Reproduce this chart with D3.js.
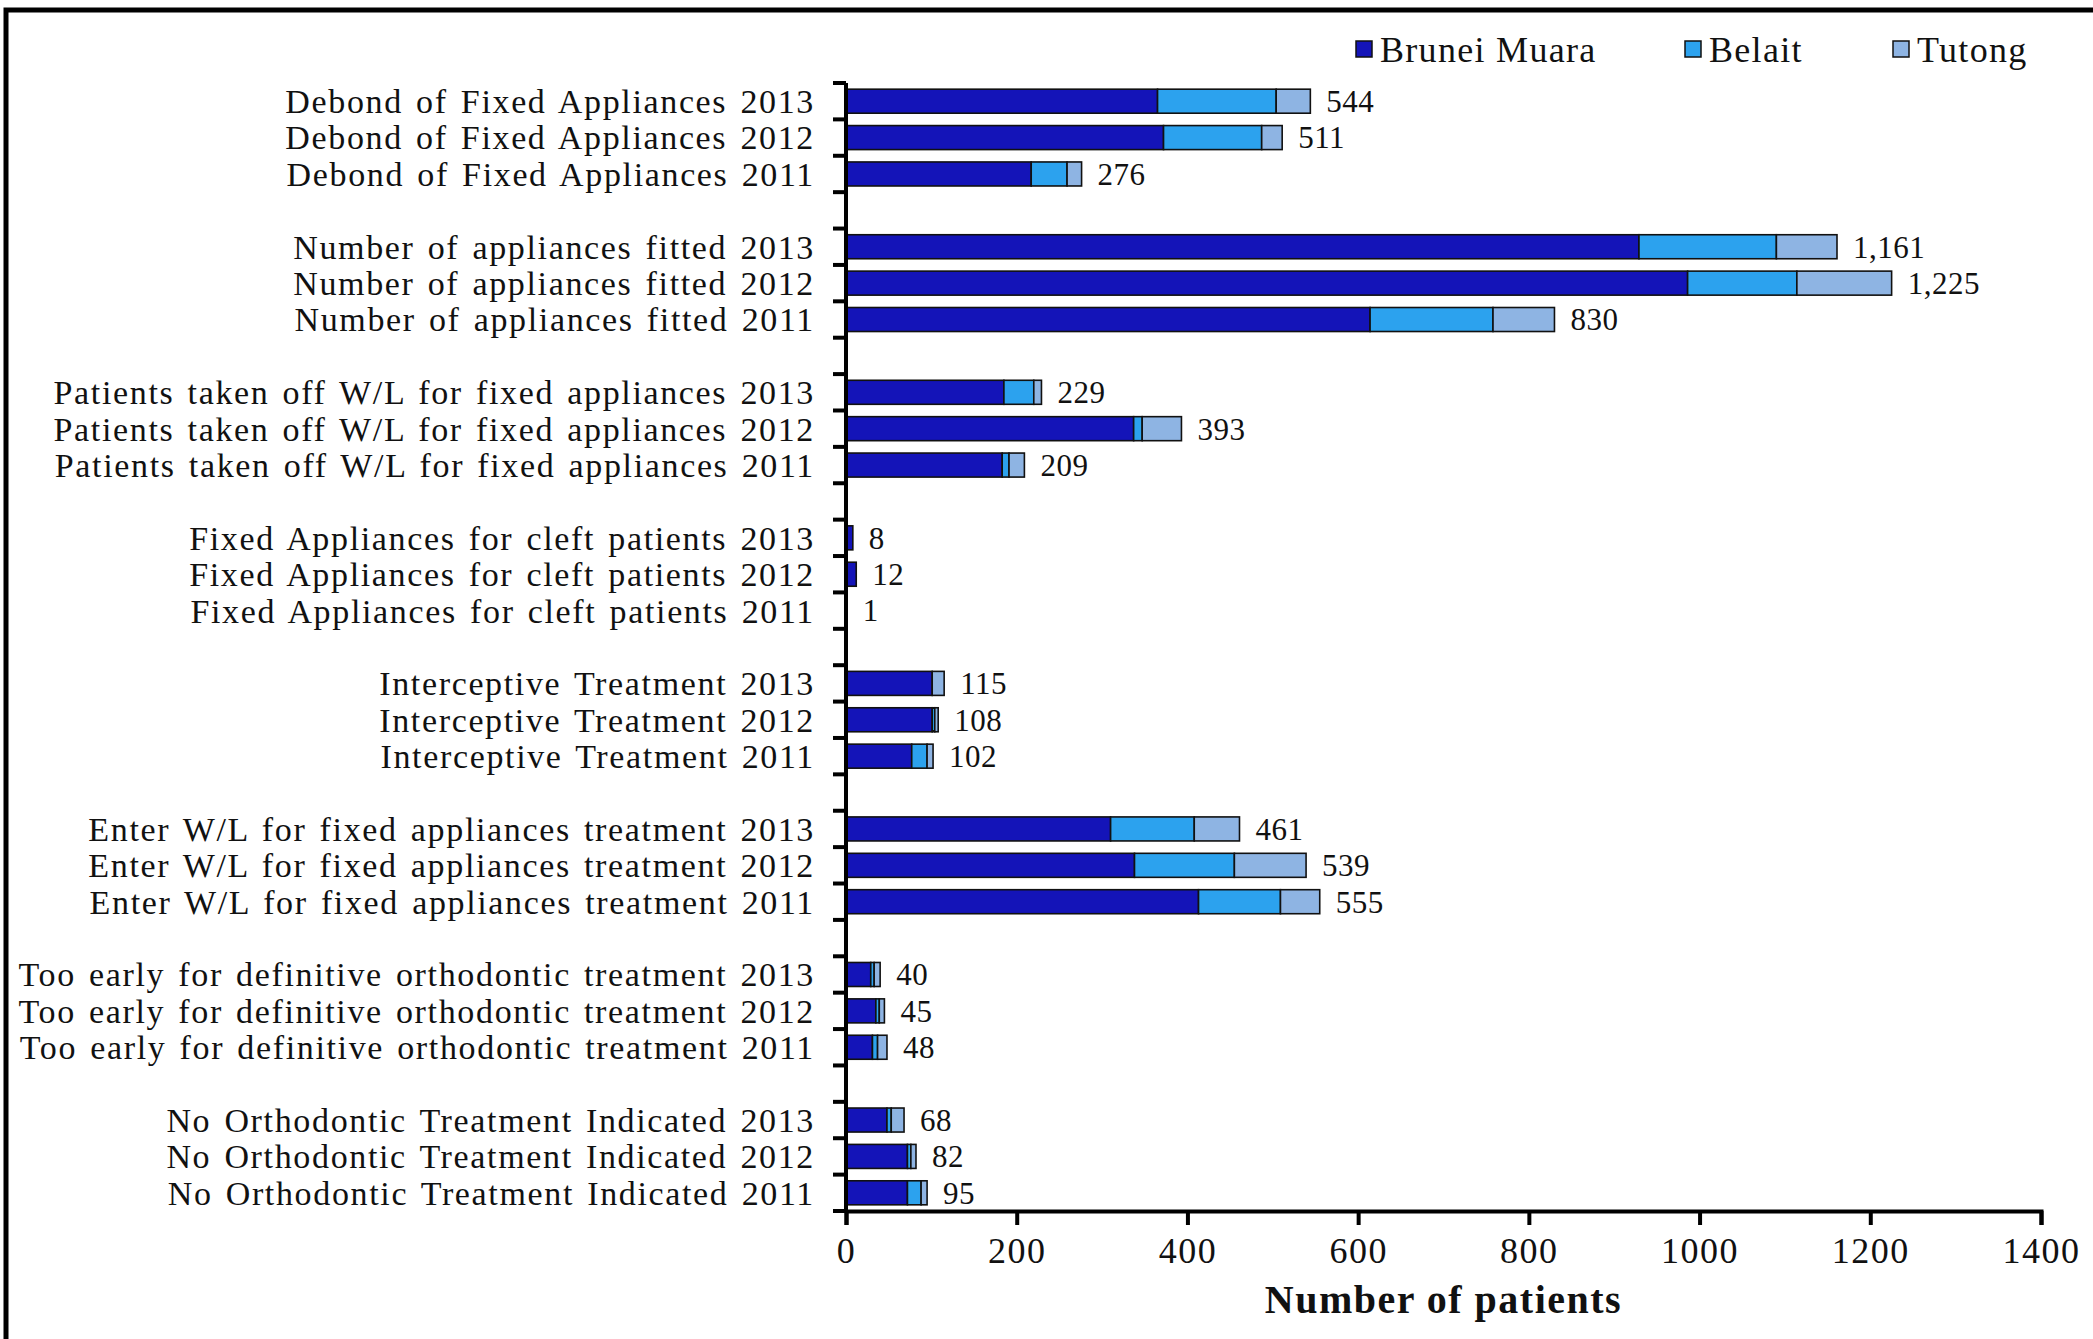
<!DOCTYPE html>
<html>
<head>
<meta charset="utf-8">
<script src="https://cdn.jsdelivr.net/npm/d3@7"></script>
<style>
  body { margin: 0; background: #fff; }
  svg { display: block; font-family: "Liberation Serif", "DejaVu Serif", serif; }
</style>
</head>
<body>
<svg id="chart" width="2093" height="1339"></svg>
<script>
// chart data, top to bottom
const groups = [
  "Debond of Fixed Appliances",
  "Number of appliances fitted",
  "Patients taken off W/L for fixed appliances",
  "Fixed Appliances for cleft patients",
  "Interceptive Treatment",
  "Enter W/L for fixed appliances treatment",
  "Too early for definitive orthodontic treatment",
  "No Orthodontic Treatment Indicated"
];
const years = ["2013", "2012", "2011"];
const districts = ["Brunei Muara", "Belait", "Tutong"];

const bruneiMuara = [365, 372, 217, 929, 986, 614, 185, 337, 183, 8, 12, 1,
  101, 101, 77, 310, 338, 413, 29, 35, 31, 48, 72, 72];
const belait = [139, 115, 42, 161, 128, 144, 35, 10, 8, 0, 0, 0,
  0, 3, 18, 98, 117, 96, 4, 4, 6, 5, 4, 16];
const tutong = [40, 24, 17, 71, 111, 72, 9, 46, 18, 0, 0, 0,
  14, 4, 7, 53, 84, 46, 7, 6, 11, 15, 6, 7];
const totals = [544, 511, 276, 1161, 1225, 830, 229, 393, 209, 8, 12, 1,
  115, 108, 102, 461, 539, 555, 40, 45, 48, 68, 82, 95];

const xTicks = [0, 200, 400, 600, 800, 1000, 1200, 1400];
const colors = ["#1414b8", "#2ca2ee", "#8eb4e3"];

// build rows, with an empty slot between groups
let rows = [];
let slots = [];
groups.forEach(function(g, gi) {
  years.forEach(function(yr, yi) {
    let i = gi * 3 + yi;
    let key = g + " " + yr;
    rows.push({key: key, label: key, values: [bruneiMuara[i], belait[i], tutong[i]], total: totals[i]});
    slots.push(key);
  });
  if (gi < groups.length - 1) slots.push("gap" + gi);
});

const svg = d3.select("#chart");
const margin = {left: 846, right: 52, top: 83, bottom: 128};
const W = +svg.attr("width"), H = +svg.attr("height");

const x = d3.scaleLinear().domain([0, 1400]).range([margin.left, W - margin.right]);
const y = d3.scaleBand().domain(slots).range([margin.top, H - margin.bottom])
  .paddingInner(0.34).paddingOuter(0.17);

// frame (top and left edges)
svg.append("path")
  .attr("d", "M6," + H + " L6,10 L" + W + ",10")
  .attr("fill", "none").attr("stroke", "#000").attr("stroke-width", 5);

// stacked bars
const stack = d3.stack().keys([0, 1, 2]).value(function(d, k) { return d.values[k]; });
const layers = stack(rows);

svg.append("g").selectAll("g")
  .data(layers)
  .join("g")
  .attr("fill", function(d, i) { return colors[i]; })
  .selectAll("rect")
  .data(function(d) { return d.filter(function(s) { return s[1] > s[0]; }); })
  .join("rect")
  .attr("x", function(s) { return x(s[0]); })
  .attr("y", function(s) { return y(s.data.key); })
  .attr("width", function(s) { return x(s[1]) - x(s[0]); })
  .attr("height", y.bandwidth())
  .attr("stroke", "#111")
  .attr("stroke-width", 1.6);

// value labels
const fmt = d3.format(",");
svg.append("g").selectAll("text")
  .data(rows)
  .join("text")
  .attr("x", function(d) { return x(d.total) + 16; })
  .attr("y", function(d) { return y(d.key) + y.bandwidth() / 2; })
  .attr("dy", "0.35em")
  .attr("font-size", 31)
  .attr("letter-spacing", 0.5)
  .attr("fill", "#111")
  .text(function(d) { return fmt(d.total); });

// y axis line and ticks at every slot boundary
const step = y.step();
const yAxis = svg.append("g");
yAxis.append("line")
  .attr("x1", x(0)).attr("x2", x(0))
  .attr("y1", margin.top).attr("y2", H - margin.bottom)
  .attr("stroke", "#000").attr("stroke-width", 4);
yAxis.selectAll(".tick")
  .data(d3.range(slots.length + 1))
  .join("line")
  .attr("class", "tick")
  .attr("x1", x(0) - 13).attr("x2", x(0))
  .attr("y1", function(i) { return margin.top + i * step; })
  .attr("y2", function(i) { return margin.top + i * step; })
  .attr("stroke", "#000").attr("stroke-width", 4);

// category labels
svg.append("g").selectAll("text")
  .data(rows)
  .join("text")
  .attr("x", x(0) - 31)
  .attr("y", function(d) { return y(d.key) + y.bandwidth() / 2; })
  .attr("dy", "0.35em")
  .attr("text-anchor", "end")
  .attr("font-size", 34)
  .attr("letter-spacing", 1.65)
  .attr("word-spacing", 3)
  .attr("fill", "#111")
  .text(function(d) { return d.label; });

// x axis
const xAxis = svg.append("g").attr("transform", "translate(0," + (H - margin.bottom) + ")")
  .call(d3.axisBottom(x).tickValues(xTicks).tickSize(14).tickPadding(12).tickFormat(d3.format("d")));
xAxis.select(".domain").attr("stroke", "#000").attr("stroke-width", 4);
xAxis.selectAll(".tick line").attr("stroke", "#000").attr("stroke-width", 4);
xAxis.selectAll(".tick text")
  .attr("font-family", "Liberation Serif, serif")
  .attr("font-size", 36)
  .attr("letter-spacing", 1.5)
  .attr("fill", "#111");

svg.append("text")
  .attr("x", (x(0) + x(1400)) / 2)
  .attr("y", 1313)
  .attr("text-anchor", "middle")
  .attr("font-size", 40)
  .attr("font-weight", "bold")
  .attr("letter-spacing", 1.5)
  .attr("fill", "#111")
  .text("Number of patients");

// legend
const legendX = [1356, 1685, 1893];
const legend = svg.append("g").selectAll("g")
  .data(districts)
  .join("g")
  .attr("transform", function(d, i) { return "translate(" + legendX[i] + ",49)"; });
legend.append("rect")
  .attr("x", 0).attr("y", -8).attr("width", 16).attr("height", 16)
  .attr("fill", function(d, i) { return colors[i]; })
  .attr("stroke", "#111").attr("stroke-width", 1.5);
legend.append("text")
  .attr("x", 24).attr("dy", "0.35em")
  .attr("font-size", 36)
  .attr("letter-spacing", 1.3)
  .attr("fill", "#111")
  .text(function(d) { return d; });
</script>
</body>
</html>
